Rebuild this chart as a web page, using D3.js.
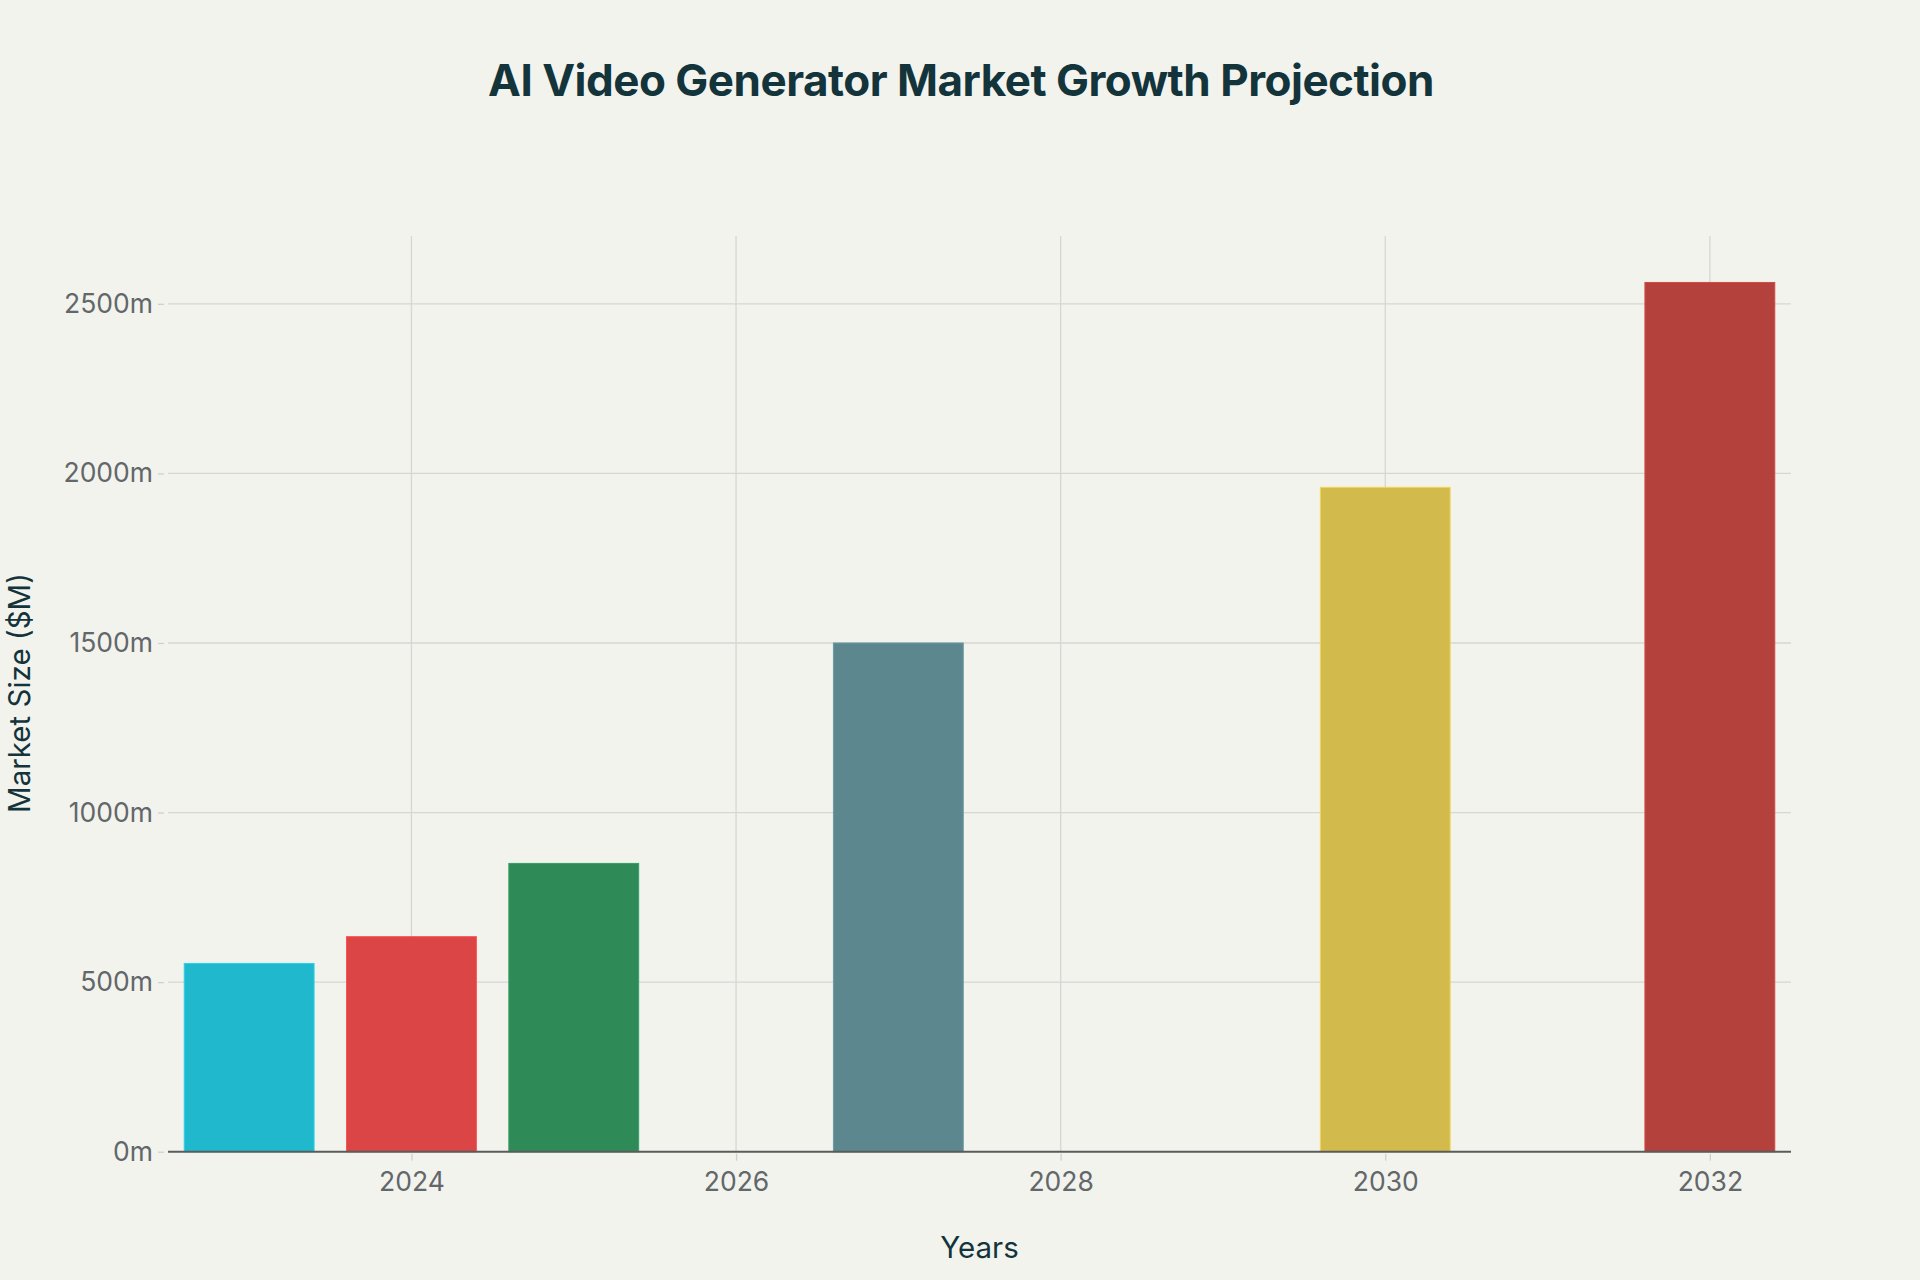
<!DOCTYPE html>
<html><head><meta charset="utf-8">
<script src="https://cdn.jsdelivr.net/npm/d3@7"></script>
<style>body{margin:0;background:#F3F3EE;} svg{display:block}</style>
</head><body>
<svg id="chart" width="1920" height="1280"></svg>
<script>
const years = [2023, 2024, 2025, 2027, 2030, 2032];
const marketSize = [555, 634, 850, 1500, 1959, 2563];
const barColors = ["#1FB8CD", "#DB4545", "#2E8B57", "#5D878F", "#D2BA4C", "#B4413C"];
const xTickValues = [2024, 2026, 2028, 2030, 2032];
const yTickValues = [0, 500, 1000, 1500, 2000, 2500];
const titleText = "AI Video Generator Market Growth Projection";
const xTitle = "Years";
const yTitle = "Market Size ($M)";

(function () {
const W = 1920, H = 1280;
const pLeft = 168, pRight = 1791, pTop = 236, pBottom = 1151.7;
const svg = d3.select("#chart");
svg.append("rect").attr("width", W).attr("height", H).attr("fill", "#F3F3EE");

const x = d3.scaleLinear().domain([2022.5, 2032.5]).range([pLeft, pRight]);
const y = d3.scaleLinear().domain([0, 2700]).range([pBottom, pTop]);
const data = years.map((yr, i) => ({yr, v: marketSize[i], c: barColors[i]}));
const fontFam = "Inter, 'Noto Sans', sans-serif";

// grid
svg.append("g").selectAll("line").data(xTickValues).join("line")
  .attr("x1", d => x(d)).attr("x2", d => x(d)).attr("y1", pTop).attr("y2", pBottom)
  .attr("stroke", "#D6D6D2").attr("stroke-width", 1.3);
svg.append("g").selectAll("line").data(yTickValues.filter(d => d > 0)).join("line")
  .attr("x1", pLeft).attr("x2", pRight).attr("y1", d => y(d)).attr("y2", d => y(d))
  .attr("stroke", "#D6D6D2").attr("stroke-width", 1.3);

// bars
const halfW = 0.4;
svg.append("g").selectAll("rect").data(data).join("rect")
  .attr("x", d => x(d.yr - halfW)).attr("width", d => x(d.yr + halfW) - x(d.yr - halfW))
  .attr("y", d => y(d.v)).attr("height", d => y(0) - y(d.v))
  .attr("fill", d => d.c)
  .attr("stroke", d => d3.color(d.c).brighter(0.4)).attr("stroke-width", 1);

// zero line
svg.append("line").attr("x1", pLeft).attr("x2", pRight).attr("y1", y(0)).attr("y2", y(0))
  .attr("stroke", "#5A5C5C").attr("stroke-width", 2);

// y axis
const yAxis = d3.axisLeft(y).tickValues(yTickValues).tickFormat(d => d + "m").tickSize(6).tickPadding(5);
const gy = svg.append("g").attr("transform", `translate(${pLeft - 4},0)`).call(yAxis);
gy.select(".domain").remove();
gy.selectAll(".tick line").attr("stroke", "#D0D0CC").attr("stroke-width", 1.3);
gy.selectAll(".tick text").attr("fill", "#62676A").style("font-family", fontFam).style("font-size", "26.5px");

// x axis
const xAxis = d3.axisBottom(x).tickValues(xTickValues).tickFormat(d3.format("d")).tickSize(7).tickPadding(11);
const gx = svg.append("g").attr("transform", `translate(0,${pBottom + 2})`).call(xAxis);
gx.select(".domain").remove();
gx.selectAll(".tick line").attr("stroke", "#D0D0CC").attr("stroke-width", 1.3);
gx.selectAll(".tick text").attr("fill", "#62676A").style("font-family", fontFam).style("font-size", "26.5px");

// titles
svg.append("text").attr("x", 961).attr("y", 96).attr("text-anchor", "middle")
  .attr("fill", "#13343B").style("font-family", fontFam).style("font-weight", "700")
  .style("font-size", "44px").style("letter-spacing", "-0.5px").text(titleText);
svg.append("text").attr("x", (pLeft + pRight) / 2).attr("y", 1258).attr("text-anchor", "middle")
  .attr("fill", "#13343B").style("font-family", fontFam).style("font-size", "29.5px").text(xTitle);
svg.append("text").attr("transform", `translate(30,693) rotate(-90)`).attr("text-anchor", "middle")
  .attr("fill", "#13343B").style("font-family", fontFam).style("font-size", "29.5px").text(yTitle);
})();
</script>
</body></html>
